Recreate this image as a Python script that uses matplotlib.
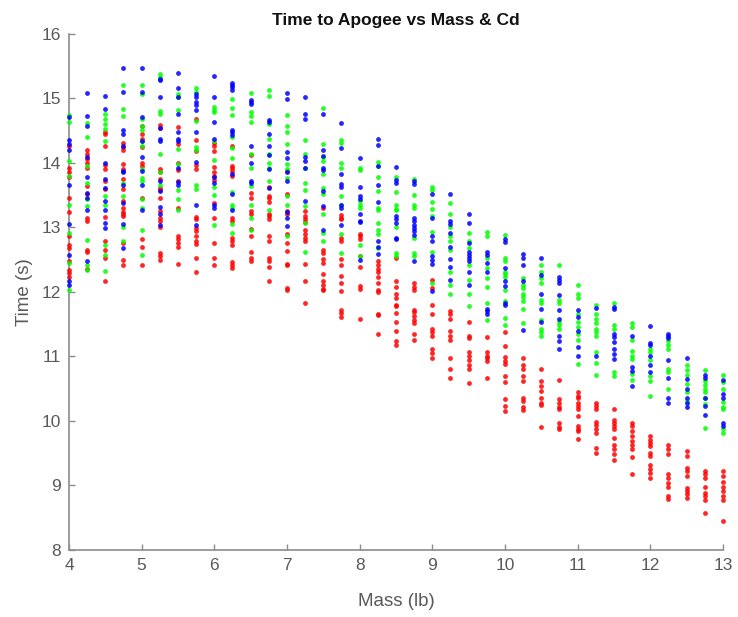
import matplotlib
matplotlib.use("Agg")
import matplotlib.pyplot as plt

masses = [4.0, 4.25, 4.5, 4.75, 5.0, 5.25, 5.5, 5.75, 6.0, 6.25, 6.5, 6.75, 7.0,
          7.25, 7.5, 7.75, 8.0, 8.25, 8.5, 8.75, 9.0, 9.25, 9.5, 9.75, 10.0,
          10.25, 10.5, 10.75, 11.0, 11.25, 11.5, 11.75, 12.0, 12.25, 12.5, 12.75, 13.0]

blue_times = [
    [14.70, 14.35, 14.29, 14.19, 13.66, 13.05, 12.57, 12.16, 12.10],
    [15.08, 14.73, 14.57, 14.09, 13.78, 13.53, 13.46, 13.26, 12.48],
    [15.03, 14.83, 14.00, 13.74, 13.61, 13.40, 13.27, 13.07, 12.99],
    [15.47, 15.09, 14.50, 14.44, 14.26, 13.87, 13.85, 13.66, 13.38, 13.05, 12.68],
    [15.46, 15.09, 14.70, 14.33, 14.09, 13.87, 13.65, 13.27],
    [15.30, 15.28, 15.02, 14.53, 14.37, 14.34, 13.72, 13.56, 13.31, 13.20, 13.04],
    [15.39, 15.16, 15.01, 14.76, 14.48, 14.37, 14.33, 13.92, 13.70, 13.65],
    [15.07, 15.02, 14.94, 14.89, 14.81, 14.48, 14.01, 13.34, 13.03],
    [15.34, 15.02, 14.63, 14.37, 13.78, 13.69, 13.34, 13.30],
    [15.24, 15.21, 15.17, 15.12, 14.50, 14.47, 14.43, 13.83, 13.51, 13.27],
    [14.97, 14.94, 14.91, 14.26, 13.99, 13.72, 13.68],
    [14.66, 14.63, 14.44, 14.26, 14.12, 13.90, 13.60],
    [15.08, 14.98, 14.17, 14.08, 13.85, 13.71, 13.23, 13.14, 13.02],
    [15.02, 14.76, 14.67, 14.09, 14.02, 13.91, 13.41],
    [14.75, 14.20, 14.11, 13.92, 13.89, 13.56, 13.33, 12.96],
    [14.61, 14.23, 13.82, 13.67, 13.62, 13.34, 13.30, 13.04],
    [14.08, 13.63, 13.49, 13.44, 13.21, 13.10, 13.08, 12.49],
    [14.37, 14.28, 13.95, 13.66, 13.39, 12.79, 12.69, 12.58],
    [13.94, 13.73, 13.69, 13.17, 13.12, 13.07, 12.84, 12.81],
    [13.72, 13.67, 13.14, 13.09, 13.04, 12.99, 12.94, 12.88, 12.47],
    [13.51, 13.14, 12.86, 12.79, 12.56, 12.49, 12.43, 12.01],
    [13.52, 13.10, 13.05, 12.91, 12.70, 12.51, 12.39, 12.18],
    [13.21, 13.07, 12.75, 12.62, 12.57, 12.52, 12.47, 12.31, 12.10],
    [12.62, 12.57, 12.44, 12.31, 11.74, 11.70, 11.65],
    [12.81, 12.77, 12.37, 12.16, 12.09, 11.83, 11.79],
    [12.58, 12.53, 12.42, 12.17, 11.41],
    [12.52, 12.26, 11.97, 11.74, 11.53],
    [12.23, 12.18, 12.13, 11.95, 11.71, 11.58, 11.32, 11.23, 11.12],
    [11.71, 11.61, 11.40, 11.14, 11.01],
    [11.75, 11.00],
    [11.77, 11.74, 11.35, 11.30, 11.22, 11.12, 11.04, 10.96],
    [11.32, 10.83, 10.78, 10.54],
    [11.47, 11.21, 11.17, 11.01, 10.86, 10.76],
    [11.35, 11.31, 11.28, 10.95, 10.66, 10.36, 10.28],
    [10.97, 10.65, 10.50, 10.36, 10.27, 10.21],
    [10.71, 10.67, 10.35, 10.23, 10.09],
    [10.64, 10.41, 10.36, 9.96, 9.92],
]

green_times = [
    [14.74, 14.63, 14.03, 13.80, 13.35, 12.91, 12.44, 12.03],
    [14.61, 14.39, 13.95, 13.69, 13.43, 13.33, 12.80, 12.42, 12.34],
    [14.76, 14.68, 14.60, 14.52, 14.34, 13.48, 13.35, 12.73, 12.57, 12.32],
    [15.21, 14.83, 14.73, 13.69, 13.48, 13.01, 12.78],
    [15.20, 15.07, 14.68, 14.57, 14.50, 14.34, 14.26, 13.90, 13.77, 13.72, 13.43, 13.30, 12.96, 12.57],
    [15.38, 15.33, 14.80, 14.76, 14.13, 13.86, 13.66],
    [15.07, 15.02, 14.81, 14.21, 13.98, 13.57, 13.43, 13.27],
    [15.15, 15.09, 14.65, 14.24, 14.19, 13.66, 13.59],
    [14.87, 14.81, 14.78, 14.34, 14.04, 13.63, 13.50, 13.04],
    [14.98, 14.84, 14.74, 14.39, 14.23, 14.08, 13.55, 13.35, 13.30, 13.05, 12.91],
    [15.08, 14.78, 14.73, 14.63, 14.14, 13.91, 13.64, 13.35, 13.14, 12.96],
    [15.13, 15.03, 14.60, 14.37, 14.13, 13.99, 13.92, 13.72, 13.27],
    [14.74, 14.57, 14.47, 14.29, 13.98, 13.90, 13.77, 13.48, 13.34, 12.87],
    [14.35, 14.13, 13.92, 13.69, 13.57, 13.33, 13.07, 12.62],
    [14.85, 14.29, 14.09, 14.02, 13.82, 13.60, 13.52, 13.20, 12.91, 12.78],
    [14.35, 14.30, 13.99, 13.92, 13.48, 13.34, 12.89, 12.60],
    [13.91, 13.88, 13.41, 13.35, 13.30, 12.72, 12.55],
    [14.01, 13.95, 13.78, 13.56, 13.30, 13.26, 13.07, 12.95, 12.89, 12.68],
    [13.78, 13.55, 13.35, 13.29, 13.26, 13.01, 12.60, 12.56],
    [13.74, 13.50, 13.35, 13.30, 12.83, 12.60, 12.55],
    [13.62, 13.57, 13.39, 13.29, 13.17, 12.93, 12.61, 12.13],
    [13.38, 13.20, 13.00, 12.86, 12.79, 12.65, 12.31, 12.11, 11.96],
    [12.91, 12.79, 12.68, 12.42, 12.18, 11.96, 11.78],
    [12.93, 12.86, 12.52, 12.37, 12.22, 12.08, 11.83, 11.56],
    [12.88, 12.53, 12.47, 12.31, 12.27, 12.23, 12.03, 11.85, 11.59, 11.49],
    [12.22, 12.11, 12.06, 11.97, 11.92, 11.85, 11.73, 11.52],
    [12.42, 12.30, 12.21, 12.13, 11.87, 11.82, 11.56, 11.43, 11.38, 11.32],
    [12.41, 11.87, 11.82, 11.53, 11.48, 11.43],
    [12.10, 11.97, 11.90, 11.66, 11.53, 11.45, 11.35, 11.26, 10.88],
    [11.80, 11.66, 11.58, 11.51, 11.43, 11.38, 11.32, 11.07, 10.90, 10.71],
    [11.82, 11.48, 11.42, 10.75, 10.69],
    [11.51, 11.45, 11.25, 11.09, 11.00, 10.96, 10.73, 10.64],
    [11.12, 11.06, 10.95, 10.69, 10.62, 10.38],
    [11.23, 11.17, 11.12, 10.80, 10.75, 10.49],
    [10.86, 10.79, 10.71, 10.57, 10.45, 10.31],
    [10.79, 10.62, 10.55, 10.49, 10.44, 10.36, 10.26, 9.89],
    [10.71, 10.60, 10.50, 10.29, 10.22, 10.18, 9.87, 9.82],
]

red_times = [
    [14.26, 13.91, 13.85, 13.78, 13.46, 13.23, 12.87, 12.73, 12.68, 12.47, 12.34, 12.29, 12.23],
    [14.20, 14.13, 14.05, 14.00, 13.92, 13.64, 13.51, 13.14, 13.09, 12.65, 12.62, 12.36],
    [14.47, 14.44, 14.26, 13.97, 13.90, 13.72, 13.59, 13.16, 12.79, 12.65, 12.52, 12.17],
    [14.30, 14.24, 14.20, 13.98, 13.90, 13.75, 13.59, 13.40, 13.30, 13.23, 13.20, 13.17, 12.75, 12.49, 12.42],
    [14.57, 14.44, 14.37, 14.24, 13.99, 13.95, 13.46, 12.82, 12.70, 12.42],
    [14.59, 14.54, 13.90, 13.85, 13.74, 13.61, 13.57, 13.46, 13.25, 13.14, 13.09, 13.00, 12.60, 12.55, 12.49],
    [14.56, 14.29, 14.00, 13.88, 13.72, 13.30, 12.86, 12.81, 12.75, 12.70, 12.43],
    [14.68, 14.35, 14.18, 13.97, 13.90, 13.16, 13.12, 12.99, 12.94, 12.86, 12.78, 12.74, 12.53, 12.31],
    [14.31, 14.26, 14.18, 13.93, 13.86, 13.79, 13.73, 13.38, 13.14, 12.75, 12.53, 12.42],
    [14.26, 13.95, 13.92, 13.87, 13.79, 13.14, 13.10, 12.83, 12.79, 12.73, 12.46, 12.42, 12.37],
    [14.12, 13.53, 13.46, 13.25, 13.20, 12.97, 12.86, 12.61, 12.52, 12.47],
    [13.62, 13.48, 13.45, 13.39, 13.21, 13.17, 13.13, 12.86, 12.79, 12.52, 12.48, 12.39, 12.16],
    [13.87, 13.52, 13.25, 13.20, 12.89, 12.75, 12.63, 12.43, 12.42, 12.06, 12.03],
    [13.25, 13.17, 13.12, 13.08, 12.96, 12.89, 12.83, 12.78, 12.43, 12.17, 11.82],
    [13.30, 12.65, 12.60, 12.51, 12.44, 12.27, 12.16, 12.10, 12.05, 12.03],
    [13.19, 13.14, 13.12, 12.83, 12.79, 12.51, 12.41, 12.25, 12.13, 12.01, 11.71, 11.67, 11.61],
    [12.89, 12.86, 12.81, 12.56, 12.39, 12.09, 12.05, 11.58],
    [12.47, 12.42, 12.36, 12.30, 12.23, 12.13, 12.03, 12.00, 11.66, 11.64, 11.35],
    [12.53, 12.17, 12.08, 11.97, 11.90, 11.80, 11.78, 11.67, 11.53, 11.40, 11.23, 11.17],
    [12.13, 12.08, 12.03, 11.71, 11.68, 11.63, 11.56, 11.51, 11.35, 11.26],
    [12.18, 12.06, 11.80, 11.66, 11.42, 11.37, 11.31, 11.12, 11.05, 10.97],
    [11.70, 11.66, 11.58, 11.39, 11.32, 11.25, 10.97, 10.80, 10.66],
    [11.53, 11.32, 11.28, 11.06, 11.00, 10.95, 10.86, 10.80, 10.58],
    [11.30, 11.07, 11.01, 10.97, 10.93, 10.66],
    [11.38, 11.16, 10.99, 10.93, 10.88, 10.69, 10.61, 10.34, 10.23, 10.15],
    [10.97, 10.86, 10.80, 10.69, 10.62, 10.36, 10.31, 10.22, 10.17],
    [10.81, 10.62, 10.54, 10.47, 10.35, 10.28, 10.24, 9.91],
    [10.63, 10.34, 10.28, 10.22, 10.18, 9.96, 9.91, 9.87],
    [10.45, 10.39, 10.36, 10.28, 10.23, 10.18, 10.07, 9.92, 9.88, 9.84, 9.72],
    [10.28, 10.23, 10.19, 9.98, 9.93, 9.87, 9.82, 9.58, 9.50],
    [10.18, 10.02, 9.97, 9.92, 9.87, 9.74, 9.63, 9.56, 9.48, 9.40],
    [9.97, 9.92, 9.84, 9.77, 9.69, 9.62, 9.56, 9.44, 9.17],
    [9.76, 9.71, 9.66, 9.61, 9.51, 9.46, 9.32, 9.25, 9.19, 9.11],
    [9.62, 9.56, 9.48, 9.17, 9.11, 9.04, 8.98, 8.83, 8.79],
    [9.53, 9.45, 9.27, 9.22, 9.15, 8.96, 8.92, 8.87, 8.80],
    [9.22, 9.17, 9.11, 8.98, 8.89, 8.83, 8.77, 8.58],
    [9.22, 9.15, 9.06, 8.98, 8.91, 8.83, 8.78, 8.45],
]

title = "Time to Apogee vs Mass & Cd"
x_label = "Mass (lb)"
y_label = "Time (s)"
x_ticks = [4, 5, 6, 7, 8, 9, 10, 11, 12, 13]
y_ticks = [8, 9, 10, 11, 12, 13, 14, 15, 16]

plt.rcParams['font.family'] = ['Liberation Sans', 'DejaVu Sans']

fig = plt.figure(figsize=(7.38, 6.17), dpi=100)
ax = fig.add_axes([0.0935, 0.1086, 0.886, 0.837])

def flatten(groups):
    xs, ys = [], []
    for m, vals in zip(masses, groups):
        for v in vals:
            xs.append(m)
            ys.append(v)
    return xs, ys

for groups, col in [(red_times, '#ff0000'), (green_times, '#00ff00'), (blue_times, '#0000ff')]:
    xs, ys = flatten(groups)
    ax.scatter(xs, ys, s=12, c=col, marker='o', linewidths=0, alpha=0.85,
               zorder=3, clip_on=False)

ax.set_xlim(4, 13)
ax.set_ylim(8, 16)
ax.set_xticks(x_ticks)
ax.set_yticks(y_ticks)
axis_col = '#8c8c8c'
label_col = '#5a5a5a'
for side in ['top', 'right']:
    ax.spines[side].set_visible(False)
for side in ['left', 'bottom']:
    ax.spines[side].set_color(axis_col)
    ax.spines[side].set_linewidth(1.2)
ax.tick_params(direction='in', length=4, width=1.0, color=axis_col,
               labelcolor=label_col, labelsize=12.5, pad=6)
ax.set_title(title, fontsize=12.5, fontweight='bold', color='#111111', pad=6)
ax.set_xlabel(x_label, fontsize=13.5, color=label_col, labelpad=14)
ax.set_ylabel(y_label, fontsize=13.5, color=label_col, labelpad=6)

fig.savefig("out.png", dpi=100)
